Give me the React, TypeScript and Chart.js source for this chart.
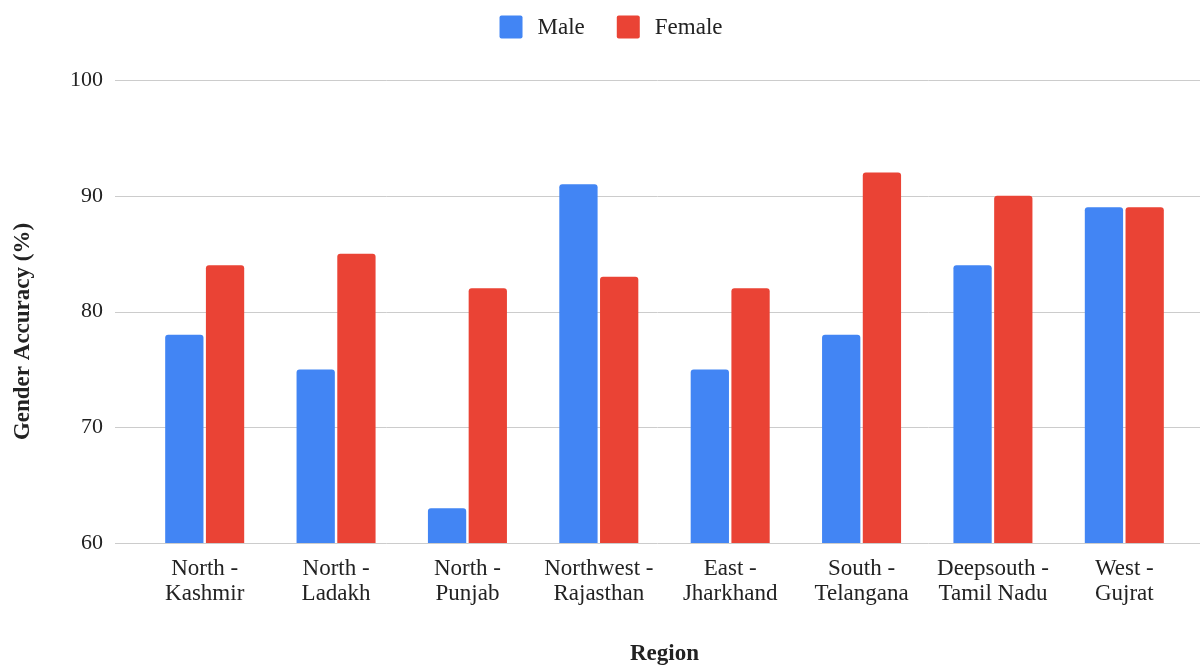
import React, { useEffect, useRef } from "react";
import { Chart, registerables } from "chart.js";

Chart.register(...registerables);

const regions: string[][] = [
  ["North -", "Kashmir"],
  ["North -", "Ladakh"],
  ["North -", "Punjab"],
  ["Northwest -", "Rajasthan"],
  ["East -", "Jharkhand"],
  ["South -", "Telangana"],
  ["Deepsouth -", "Tamil Nadu"],
  ["West -", "Gujrat"],
];
const maleAccuracy = [78, 75, 63, 91, 75, 78, 84, 89];
const femaleAccuracy = [84, 85, 82, 83, 82, 92, 90, 89];
const yTicks = [60, 70, 80, 90, 100];
const yTitle = "Gender Accuracy (%)";

const SERIF = "'Liberation Serif', 'Times New Roman', serif";
const TEXT = "#222222";
const GRID = "#cccccc";

// Horizontal grid lines running the full plot width, beyond the category band.
const wideGrid = {
  id: "wideGrid",
  beforeDatasetsDraw(chart: any) {
    const { ctx } = chart;
    const y = chart.scales.y;
    ctx.save();
    ctx.strokeStyle = GRID;
    ctx.lineWidth = 1;
    yTicks.forEach((v) => {
      const py = Math.round(y.getPixelForValue(v)) + 0.5;
      ctx.beginPath();
      ctx.moveTo(115, py);
      ctx.lineTo(chart.width, py);
      ctx.stroke();
    });
    ctx.restore();
  },
};

// Rotated value-axis title, sitting a little below the plot's middle.
const sideTitle = {
  id: "sideTitle",
  afterDraw(chart: any) {
    const { ctx, chartArea } = chart;
    ctx.save();
    ctx.translate(23, (chartArea.top + chartArea.bottom) / 2 + 20);
    ctx.rotate(-Math.PI / 2);
    ctx.font = `bold 23px ${SERIF}`;
    ctx.fillStyle = TEXT;
    ctx.textAlign = "center";
    ctx.textBaseline = "middle";
    ctx.fillText(yTitle, 0, 0);
    ctx.restore();
  },
};

// Square legend swatches centred above the plot.
const topLegend = {
  id: "topLegend",
  afterDraw(chart: any) {
    const { ctx } = chart;
    const sets = chart.data.datasets;
    const box = 23;
    const gap = 15;
    const spacing = 32;
    ctx.save();
    ctx.font = `23px ${SERIF}`;
    const widths = sets.map((d: any) => box + gap + ctx.measureText(d.label).width);
    const total = widths.reduce((a: number, b: number) => a + b, 0) + spacing * (sets.length - 1);
    let x = chart.width / 2 + 11 - total / 2;
    const cy = 27;
    sets.forEach((d: any, i: number) => {
      ctx.fillStyle = d.backgroundColor;
      ctx.beginPath();
      ctx.roundRect(x, cy - box / 2, box, box, 2);
      ctx.fill();
      ctx.fillStyle = TEXT;
      ctx.textBaseline = "middle";
      ctx.textAlign = "left";
      ctx.fillText(d.label, x + box + gap, cy + 1);
      x += widths[i] + spacing;
    });
    ctx.restore();
  },
};

export default function App() {
  const canvasRef = useRef<HTMLCanvasElement | null>(null);

  useEffect(() => {
    if (!canvasRef.current) return;
    const chart = new Chart(canvasRef.current, {
      type: "bar",
      data: {
        labels: regions,
        datasets: [
          {
            label: "Male",
            data: maleAccuracy,
            backgroundColor: "#4285F4",
            borderRadius: 3,
            barPercentage: 0.94,
            categoryPercentage: 0.62,
          },
          {
            label: "Female",
            data: femaleAccuracy,
            backgroundColor: "#EA4335",
            borderRadius: 3,
            barPercentage: 0.94,
            categoryPercentage: 0.62,
          },
        ],
      },
      options: {
        animation: false,
        responsive: false,
        maintainAspectRatio: false,
        layout: { padding: { top: 80, right: 10, left: 0, bottom: 0 } },
        plugins: {
          legend: { display: false },
          tooltip: { enabled: false },
        },
        scales: {
          x: {
            grid: { display: false, drawTicks: false },
            border: { display: false },
            ticks: {
              color: TEXT,
              font: { family: SERIF, size: 23, lineHeight: 1.1 },
              padding: 13,
              maxRotation: 0,
              autoSkip: false,
            },
            title: {
              display: true,
              text: "Region",
              color: TEXT,
              font: { family: SERIF, size: 23, weight: "bold", lineHeight: 1.0 },
              padding: { top: 0, bottom: 0 },
            },
            afterFit(scale: any) {
              scale.height = 123;
            },
          },
          y: {
            min: 60,
            max: 100,
            grid: { display: false, drawTicks: false },
            border: { display: false },
            afterBuildTicks(scale: any) {
              scale.ticks = yTicks.map((v) => ({ value: v }));
            },
            ticks: {
              color: TEXT,
              font: { family: SERIF, size: 22 },
              padding: 36,
            },
            afterFit(scale: any) {
              scale.width = 139;
            },
          },
        },
      },
      plugins: [wideGrid, sideTitle, topLegend],
    });
    return () => chart.destroy();
  }, []);

  return (
    <div style={{ position: "absolute", left: 0, top: 0, width: 1200, height: 666, background: "#ffffff" }}>
      <canvas ref={canvasRef} width={1200} height={666} style={{ width: 1200, height: 666 }} />
    </div>
  );
}
